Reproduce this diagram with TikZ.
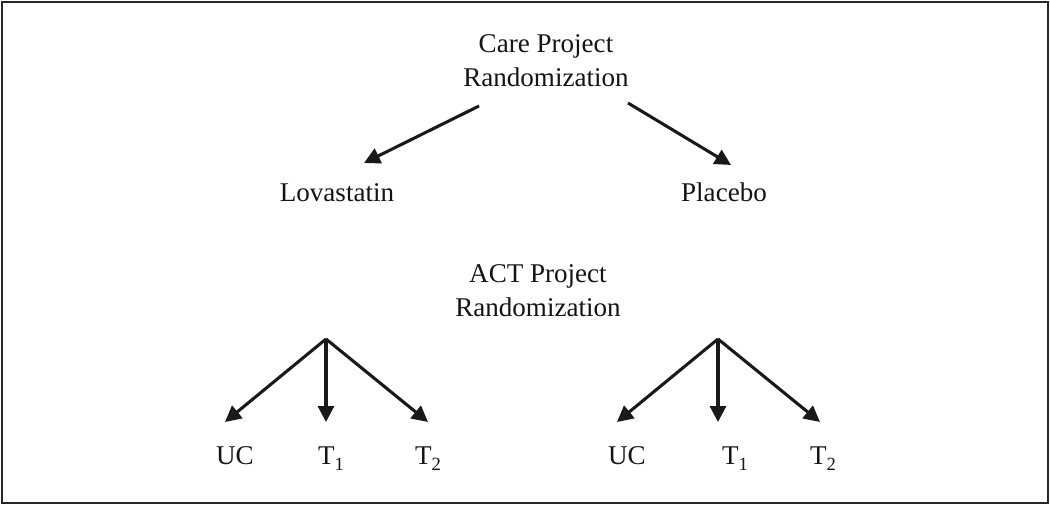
\documentclass[tikz,border=0pt]{standalone}
\usepackage{fontspec}
\setmainfont{Liberation Serif}
\usetikzlibrary{arrows.meta}
\newcommand{\lowsub}[1]{\raisebox{-4.5pt}{\fontsize{14}{14}\selectfont #1}}
\begin{document}
\begin{tikzpicture}[x=0.75pt,y=-0.75pt,
  lbl/.style={inner sep=0pt,anchor=base,font=\fontsize{20.3}{25.5}\selectfont,text=black!92},
  two/.style={lbl,align=center},
  arr/.style={line width=2.3pt,draw=black!90,-{Triangle[length=12pt,width=12pt]}},
  frame/.style={line width=1.6pt,draw=black!85}]
\useasboundingbox (0,0) rectangle (1050,506);
\draw[frame] (2,2) rectangle (1048,503);
% top level
\node[two] (care) at (546,87) {Care Project\\Randomization};
\node[lbl] (lova) at (337,202) {Lovastatin};
\node[lbl] (plac) at (724,202) {Placebo};
\coordinate (c1) at (479,106);
\coordinate (c2) at (628,103);
\coordinate (l1) at (364,163);
\coordinate (p1) at (731,165);
\draw[arr] (c1) -- (l1);
\draw[arr] (c2) -- (p1);
% ACT
\node[two] (act) at (538,316) {ACT Project\\Randomization};
% left tree
\coordinate (aL) at (326,339);
\coordinate (tLa) at (225,422);
\coordinate (tLb) at (326,422);
\coordinate (tLc) at (428,422);
\draw[arr] (aL) -- (tLa);
\draw[arr] (aL) -- (tLb);
\draw[arr] (aL) -- (tLc);
\node[lbl] (ucL) at (235,464) {UC};
\node[lbl] (t1L) at (331,464) {T\lowsub{1}};
\node[lbl] (t2L) at (428,464) {T\lowsub{2}};
% right tree
\coordinate (aR) at (718,339);
\coordinate (tRa) at (617,422);
\coordinate (tRb) at (718,422);
\coordinate (tRc) at (820,422);
\draw[arr] (aR) -- (tRa);
\draw[arr] (aR) -- (tRb);
\draw[arr] (aR) -- (tRc);
\node[lbl] (ucR) at (627,464) {UC};
\node[lbl] (t1R) at (735,464) {T\lowsub{1}};
\node[lbl] (t2R) at (823,464) {T\lowsub{2}};
\end{tikzpicture}
\end{document}
